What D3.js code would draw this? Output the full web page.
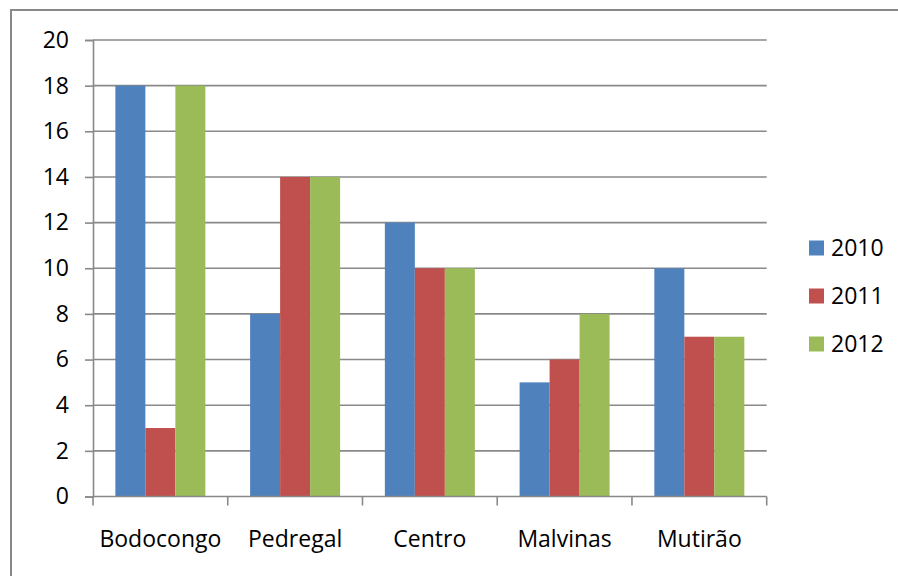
<!DOCTYPE html>
<html>
<head>
<meta charset="utf-8">
<script src="https://cdn.jsdelivr.net/npm/d3@7"></script>
<style>
  html, body { margin: 0; padding: 0; background: #fff; }
  svg { display: block; }
  text { font-family: "Open Sans", Lato, sans-serif; fill: #000; }
</style>
</head>
<body>
<svg id="chart" width="898" height="576"></svg>
<script>
// Neighbourhoods along the x axis
const categories = ["Bodocongo", "Pedregal", "Centro", "Malvinas", "Mutirão"];
// One series per year
const years = ["2010", "2011", "2012"];
const values2010 = [18, 8, 12, 5, 10];
const values2011 = [3, 14, 10, 6, 7];
const values2012 = [18, 14, 10, 8, 7];
const yTicks = [0, 2, 4, 6, 8, 10, 12, 14, 16, 18, 20];
const colors = ["#4F81BD", "#C0504D", "#9BBB59"];

const seriesValues = [values2010, values2011, values2012];
const rows = categories.map((c, i) => ({
  category: c,
  values: years.map((y, k) => ({ year: y, value: seriesValues[k][i] }))
}));

const svg = d3.select("#chart");
const gridColor = "#898989";
const fontFamily = "'Open Sans', Lato, sans-serif";
const fontSize = 23;

// Outer frame
svg.append("rect")
  .attr("x", 11).attr("y", 10)
  .attr("width", 900).attr("height", 600)
  .attr("fill", "none").attr("stroke", gridColor).attr("stroke-width", 2);

const plot = { left: 93, right: 766.7, top: 40, bottom: 496.5 };

const x = d3.scaleBand()
  .domain(categories)
  .range([plot.left, plot.right])
  .paddingInner(0).paddingOuter(0);

const x1 = d3.scaleBand()
  .domain(years)
  .range([0, 90]);

const y = d3.scaleLinear()
  .domain([0, 20])
  .range([plot.bottom, plot.top]);

// Horizontal gridlines
svg.append("g")
  .selectAll("line")
  .data(yTicks.filter(t => t > 0))
  .join("line")
  .attr("x1", plot.left).attr("x2", plot.right)
  .attr("y1", d => y(d)).attr("y2", d => y(d))
  .attr("stroke", gridColor).attr("stroke-width", 1.6);

// Bars
const groupOffset = (x.bandwidth() - 90) / 2;
svg.append("g")
  .selectAll("g")
  .data(rows)
  .join("g")
  .attr("transform", d => `translate(${x(d.category) + groupOffset},0)`)
  .selectAll("rect")
  .data(d => d.values)
  .join("rect")
  .attr("x", d => x1(d.year))
  .attr("width", x1.bandwidth())
  .attr("y", d => y(d.value))
  .attr("height", d => y(0) - y(d.value))
  .attr("fill", (d, i) => colors[i]);

// Y axis
const yAxis = svg.append("g")
  .attr("transform", `translate(${plot.left},0)`)
  .call(d3.axisLeft(y).tickValues(yTicks).tickSize(8).tickPadding(16).tickFormat(d3.format("d")));
yAxis.select(".domain").attr("stroke", gridColor).attr("stroke-width", 1.6);
yAxis.selectAll(".tick line").attr("stroke", gridColor).attr("stroke-width", 1.6);
yAxis.selectAll(".tick text")
  .attr("font-size", fontSize)
  .attr("font-family", fontFamily)
  .attr("fill", "#000");

// X axis with ticks on category boundaries
svg.append("line")
  .attr("x1", plot.left).attr("x2", plot.right)
  .attr("y1", plot.bottom).attr("y2", plot.bottom)
  .attr("stroke", gridColor).attr("stroke-width", 1.6);
const boundaries = categories.map(c => x(c)).concat([plot.right]);
svg.append("g")
  .selectAll("line")
  .data(boundaries)
  .join("line")
  .attr("x1", d => d).attr("x2", d => d)
  .attr("y1", plot.bottom).attr("y2", plot.bottom + 9)
  .attr("stroke", gridColor).attr("stroke-width", 1.6);

svg.append("g")
  .selectAll("text")
  .data(categories)
  .join("text")
  .attr("x", d => x(d) + x.bandwidth() / 2)
  .attr("y", 547)
  .attr("text-anchor", "middle")
  .attr("font-size", fontSize)
  .text(d => d);

// Legend
const legend = svg.append("g")
  .selectAll("g")
  .data(years)
  .join("g")
  .attr("transform", (d, i) => `translate(809,${248 + i * 48})`);
legend.append("rect")
  .attr("x", 0).attr("y", -7.5)
  .attr("width", 15).attr("height", 15)
  .attr("fill", (d, i) => colors[i]);
legend.append("text")
  .attr("x", 22).attr("y", 0)
  .attr("dy", "0.35em")
  .attr("font-size", fontSize)
  .text(d => d);
</script>
</body>
</html>
